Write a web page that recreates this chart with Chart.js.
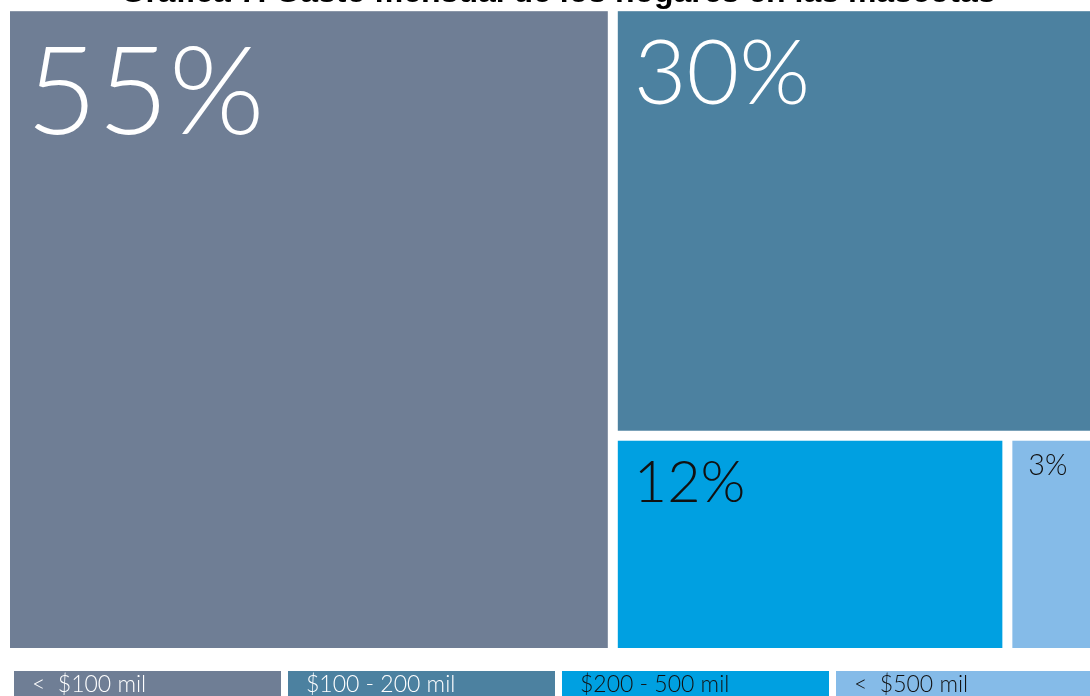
<!DOCTYPE html>
<html>
<head>
<meta charset="utf-8">
<script src="https://cdn.jsdelivr.net/npm/chart.js@4/dist/chart.umd.min.js"></script>
<style>
  html, body { margin: 0; padding: 0; background: #fff; overflow: hidden; width: 1090px; height: 696px; }
  #wrap { position: absolute; left: 0; top: -30px; width: 1110px; height: 740px; }
</style>
</head>
<body>
<div id="wrap"><canvas id="treemapChart"></canvas></div>
<script>
// data
const categories = ['<  $100 mil', '$100 - 200 mil', '$200 - 500 mil', '<  $500 mil'];
const shares = [55, 30, 12, 3];
const labels = shares.map(v => v + '%');

const tileColors = ['#6f7e95', '#4c81a0', '#00a0e1', '#85bbe8'];
const textColors = ['#ffffff', '#ffffff', '#111111', '#111111'];
const labelFont = 'Lato';

// squarified layout in an area of size w x h
function worst(row, side) {
    const s = row.reduce((a, b) => a + b, 0);
    let m = 0;
    row.forEach(a => {
        m = Math.max(m, (side * side * a) / (s * s), (s * s) / (side * side * a));
    });
    return m;
}

function squarify(values, w, h) {
    const total = values.reduce((a, b) => a + b, 0);
    let rest = values.map(v => v / total * w * h);
    let r = { x: 0, y: 0, w: w, h: h };
    const out = [];
    while (rest.length) {
        const side = Math.min(r.w, r.h);
        const row = [rest[0]];
        let i = 1;
        while (i < rest.length && worst(row.concat(rest[i]), side) <= worst(row, side)) {
            row.push(rest[i]);
            i++;
        }
        const s = row.reduce((a, b) => a + b, 0);
        if (r.w >= r.h) {
            const cw = s / r.h;
            let yy = r.y;
            row.forEach(a => { const hh = a / cw; out.push({ x: r.x, y: yy, w: cw, h: hh }); yy += hh; });
            r = { x: r.x + cw, y: r.y, w: r.w - cw, h: r.h };
        } else {
            const rh = s / r.w;
            let xx = r.x;
            row.forEach(a => { const ww = a / rh; out.push({ x: xx, y: r.y, w: ww, h: rh }); xx += ww; });
            r = { x: r.x, y: r.y + rh, w: r.w, h: r.h - rh };
        }
        rest = rest.slice(i);
    }
    // back to 0..1 on both axes
    return out.map(t => ({ x0: t.x / w, x1: (t.x + t.w) / w, y0: t.y / h, y1: (t.y + t.h) / h }));
}

const treemapPlugin = {
    id: 'treemap',
    afterDatasetsDraw(chart) {
        const ctx = chart.ctx;
        const xs = chart.scales.x, ys = chart.scales.y;
        const area = chart.chartArea;
        const tiles = squarify(shares, area.right - area.left, area.bottom - area.top);
        const gap = 10;
        ctx.save();
        tiles.forEach((t, i) => {
            let l = xs.getPixelForValue(t.x0), r = xs.getPixelForValue(t.x1);
            let tp = ys.getPixelForValue(t.y0), b = ys.getPixelForValue(t.y1);
            if (t.x0 > 1e-6) l += gap / 2;
            if (t.x1 < 1 - 1e-6) r -= gap / 2;
            if (t.y0 > 1e-6) tp += gap / 2;
            if (t.y1 < 1 - 1e-6) b -= gap / 2;
            ctx.fillStyle = tileColors[i];
            ctx.fillRect(l, tp, r - l, b - tp);

            const fs = 16.6 * Math.sqrt(shares[i]);
            ctx.font = '300 ' + fs + 'px ' + labelFont;
            ctx.fillStyle = textColors[i];
            ctx.textBaseline = 'alphabetic';
            ctx.textAlign = 'left';
            ctx.fillText(labels[i], l + 16, tp + 0.93 * fs + 8);
        });

        // legend strip under the tiles
        const top = area.bottom + 23;
        categories.forEach((c, i) => {
            const x = 14 + i * 274;
            ctx.fillStyle = tileColors[i];
            ctx.fillRect(x, top, 267, 32);
            ctx.fillStyle = textColors[i];
            ctx.font = '300 23px ' + labelFont;
            ctx.fillText(c, x + 18, top + 21);
        });
        ctx.restore();
    }
};

new Chart(document.getElementById('treemapChart').getContext('2d'), {
    type: 'scatter',
    data: {
        datasets: [{
            label: 'Gasto mensual',
            data: shares.map(() => ({ x: 0, y: 0 })),
            pointRadius: 0,
            pointHoverRadius: 0
        }]
    },
    options: {
        responsive: true,
        maintainAspectRatio: false,
        animation: false,
        events: [],
        layout: { padding: { left: 10, right: 4, top: 0, bottom: 62 } },
        scales: {
            x: { type: 'linear', min: 0, max: 1, display: false },
            y: { type: 'linear', min: 0, max: 1, reverse: true, display: false }
        },
        plugins: {
            legend: { display: false },
            tooltip: { enabled: false },
            title: {
                display: true,
                text: 'Gráfica 7. Gasto mensual de los hogares en las mascotas',
                color: '#000',
                font: { family: 'Liberation Sans', size: 32, weight: 'bold', lineHeight: 1.1 },
                padding: { top: 6, bottom: 0 }
            }
        }
    },
    plugins: [treemapPlugin]
});
</script>
</body>
</html>
